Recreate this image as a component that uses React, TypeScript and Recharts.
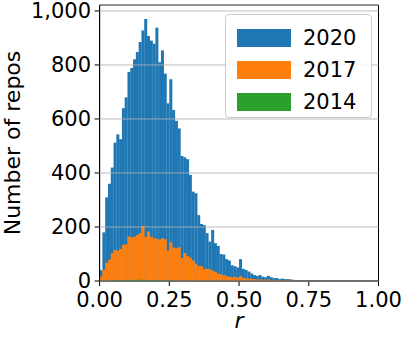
import { BarChart, Bar, XAxis, YAxis, CartesianGrid, Legend, ReferenceArea } from 'recharts';

const FONT = '"DejaVu Sans", sans-serif';
const BLUE = '#1f77b4';
const ORANGE = '#ff7f0e';
const GREEN = '#2ca02c';

// 100 bins of width 0.01 over r in [0, 1]
const binStarts = Array.from({ length: 100 }, (_, i) => i / 100);

const counts2020 = [
  40, 180, 310, 360, 420, 512, 543, 525, 640, 680,
  774, 789, 821, 848, 885, 928, 970, 907, 890, 879,
  938, 810, 854, 768, 658, 747, 633, 593, 565, 463,
  458, 451, 393, 331, 325, 244, 211, 207, 177, 146,
  189, 140, 130, 100, 98, 81, 76, 58, 55, 50,
  81, 45, 41, 35, 28, 22, 19, 22, 16, 14,
  19, 14, 11, 11, 7, 9, 7, 7, 6, 4,
  4, 3, 3, 2, 2, 2, 1, 1, 0, 2,
  0, 0, 0, 0, 0, 0, 0, 0, 0, 0,
  0, 0, 0, 0, 0, 0, 0, 0, 0, 0,
];

const counts2017 = [
  17, 42, 68, 79, 103, 115, 112, 119, 134, 136,
  165, 162, 164, 170, 177, 204, 164, 183, 164, 158,
  156, 154, 159, 155, 112, 144, 124, 121, 125, 85,
  104, 93, 87, 76, 64, 55, 55, 45, 45, 44,
  39, 34, 27, 25, 22, 18, 16, 14, 15, 13,
  19, 11, 10, 9, 8, 7, 6, 5, 5, 5,
  6, 4, 4, 3, 3, 2, 2, 2, 7, 1,
  1, 1, 0, 0, 0, 0, 0, 0, 0, 0,
  0, 0, 0, 0, 0, 0, 0, 0, 0, 0,
  0, 0, 0, 0, 0, 0, 0, 0, 0, 0,
];

const counts2014 = [
  0, 1, 1, 2, 2, 3, 3, 3, 4, 3,
  4, 4, 4, 4, 5, 4, 4, 4, 3, 3,
  3, 3, 2, 2, 2, 2, 2, 1, 1, 1,
  1, 1, 1, 1, 0, 0, 1, 0, 0, 0,
  0, 0, 0, 0, 0, 0, 0, 0, 0, 0,
  0, 0, 0, 0, 0, 0, 0, 0, 0, 0,
  0, 0, 0, 0, 0, 0, 0, 0, 0, 0,
  0, 0, 0, 0, 0, 0, 0, 0, 0, 0,
  0, 0, 0, 0, 0, 0, 0, 0, 0, 0,
  0, 0, 0, 0, 0, 0, 0, 0, 0, 0,
];

const xTicks = [0, 0.25, 0.5, 0.75, 1];
const yTicks = [0, 200, 400, 600, 800, 1000];

const legendItems = [
  { label: '2020', color: BLUE },
  { label: '2017', color: ORANGE },
  { label: '2014', color: GREEN },
];

const data = binStarts.map((start, i) => ({
  bin: i,
  x: start + 0.005,
  y2020: counts2020[i],
  y2017: counts2017[i],
  y2014: counts2014[i],
}));

function LegendBox() {
  return (
    <div
      style={{
        boxSizing: 'border-box',
        width: 147,
        height: 104,
        border: '1px solid #cccccc',
        borderRadius: 4,
        background: 'rgba(255,255,255,0.8)',
        padding: '7px 0 0 11px',
        fontFamily: FONT,
        fontSize: 21,
        color: '#000',
      }}
    >
      {legendItems.map((it) => (
        <div key={it.label} style={{ display: 'flex', alignItems: 'center', height: 32 }}>
          <span style={{ display: 'inline-block', width: 54, height: 18, background: it.color, marginRight: 12 }} />
          <span>{it.label}</span>
        </div>
      ))}
    </div>
  );
}

const tickStyle = { fontSize: 21, fill: '#000', fontFamily: FONT };

export default function App() {
  return (
    <div style={{ position: 'absolute', left: 0, top: 0, width: 407, height: 339, background: '#fff', fontFamily: FONT }}>
      <BarChart
        width={407}
        height={339}
        data={data}
        margin={{ top: 5, right: 28.5, bottom: 0, left: 0 }}
        barCategoryGap={0}
        barGap={0}
      >
        <XAxis
          xAxisId="r"
          dataKey="x"
          type="number"
          domain={[0, 1]}
          allowDataOverflow
          ticks={xTicks}
          tickFormatter={(v: number) => v.toFixed(2)}
          height={58}
          tick={tickStyle}
          tickSize={5}
          tickMargin={5.6}
          axisLine={{ stroke: '#000' }}
          tickLine={{ stroke: '#000' }}
          interval={0}
          label={{ value: 'r', position: 'insideBottom', offset: 11, style: { fontSize: 22, fontStyle: 'italic', fill: '#000', fontFamily: FONT } }}
        />
        {/* three hidden band axes so the years overlap instead of sitting side by side */}
        <XAxis xAxisId="a" dataKey="bin" type="category" hide height={0} />
        <XAxis xAxisId="b" dataKey="bin" type="category" hide height={0} />
        <XAxis xAxisId="c" dataKey="bin" type="category" hide height={0} />
        <YAxis
          type="number"
          domain={[0, 1022]}
          ticks={yTicks}
          interval={0}
          width={99.6}
          tick={tickStyle}
          tickSize={5}
          tickMargin={3.5}
          axisLine={{ stroke: '#000' }}
          tickLine={{ stroke: '#000' }}
          tickFormatter={(v: number) => v.toLocaleString('en-US')}
          label={{ value: 'Number of repos', angle: -90, position: 'insideLeft', offset: 12, style: { textAnchor: 'middle', fontSize: 22, fill: '#000', fontFamily: FONT } }}
        />
        <Bar xAxisId="a" dataKey="y2020" fill={BLUE} isAnimationActive={false} />
        <Bar xAxisId="b" dataKey="y2017" fill={ORANGE} isAnimationActive={false} />
        <Bar xAxisId="c" dataKey="y2014" fill={GREEN} isAnimationActive={false} />
        <CartesianGrid xAxisId="r" vertical={false} stroke="#b0b0b0" strokeOpacity={0.85} zIndex={650} />
        <ReferenceArea xAxisId="r" x1={0} x2={1} y1={0} y2={1022} fill="none" stroke="#000" strokeWidth={1} ifOverflow="visible" />
        <Legend
          layout="horizontal"
          verticalAlign="middle"
          align="center"
          wrapperStyle={{ left: 225, top: 14, width: 147 }}
          content={() => <LegendBox />}
        />
      </BarChart>
    </div>
  );
}
